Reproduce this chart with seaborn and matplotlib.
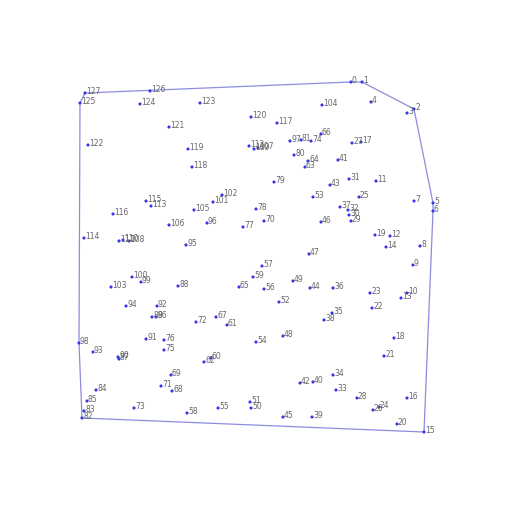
import numpy as np
import matplotlib
matplotlib.use("Agg")
import matplotlib.pyplot as plt
import seaborn as sns

# point positions (x to the right, y downward)
px = [351, 362, 414, 407, 371, 433, 433, 414, 420, 413, 407, 376, 390, 401, 386, 424,
      407, 361, 394, 375, 397, 384, 372, 370, 379, 359, 373, 352, 357, 351, 349, 349,
      348, 336, 333, 332, 333, 340, 324, 312, 313, 338, 300, 330, 310, 283, 321, 309,
      283, 293, 251, 250, 279, 313, 256, 218, 264, 262, 187, 253, 211, 227, 204, 305,
      308, 239, 321, 216, 172, 171, 264, 161, 196, 134, 311, 164, 164, 243, 256, 274,
      294, 301, 82, 84, 96, 87, 156, 119, 178, 152, 118, 146, 157, 93, 126, 186,
      207, 290, 79, 141, 132, 213, 222, 111, 322, 194, 169, 258, 129, 254, 123, 119,
      249, 151, 84, 146, 113, 277, 192, 188, 251, 169, 88, 200, 140, 80, 150, 85]
py = [82, 82, 109, 113, 102, 203, 211, 201, 246, 265, 293, 181, 236, 298, 247, 432,
      398, 142, 338, 235, 424, 356, 308, 293, 407, 197, 410, 143, 398, 221, 215, 179,
      210, 390, 375, 313, 288, 207, 320, 417, 382, 160, 383, 185, 288, 417, 222, 254,
      336, 281, 408, 402, 302, 197, 342, 408, 289, 266, 413, 277, 358, 325, 362, 167,
      161, 287, 134, 317, 391, 375, 221, 386, 322, 408, 141, 350, 340, 227, 209, 182,
      155, 140, 418, 411, 390, 401, 317, 359, 286, 317, 357, 339, 306, 352, 306, 245,
      223, 141, 343, 282, 277, 202, 195, 287, 105, 210, 225, 148, 241, 149, 240, 241,
      146, 206, 238, 201, 214, 123, 167, 149, 117, 127, 145, 103, 104, 103, 91, 93]
labels = [str(i) for i in range(len(px))]

pts = np.column_stack([px, py]).astype(float)


def hull(p):
    # monotone chain
    order = sorted(range(len(p)), key=lambda i: (p[i][0], p[i][1]))
    def cross(o, a, b):
        return (a[0]-o[0])*(b[1]-o[1]) - (a[1]-o[1])*(b[0]-o[0])
    lower, upper = [], []
    for i in order:
        while len(lower) >= 2 and cross(p[lower[-2]], p[lower[-1]], p[i]) <= 0:
            lower.pop()
        lower.append(i)
    for i in reversed(order):
        while len(upper) >= 2 and cross(p[upper[-2]], p[upper[-1]], p[i]) <= 0:
            upper.pop()
        upper.append(i)
    return lower[:-1] + upper[:-1]


h = hull(pts)
h = h + [h[0]]

fig = plt.figure(figsize=(5.12, 5.12), dpi=100)
ax = fig.add_axes([0, 0, 1, 1])
ax.plot(pts[h, 0], pts[h, 1], color="#8c8ce0", lw=0.9, zorder=1)
sns.scatterplot(x=pts[:, 0], y=pts[:, 1], ax=ax, s=5, color="#3434ec",
                edgecolor="none", zorder=2)
for x, y, t in zip(pts[:, 0], pts[:, 1], labels):
    ax.text(x + 1, y + 1, t, fontsize=5.5, color="#666666", ha="left", va="baseline")

ax.set_xlim(0, 512)
ax.set_ylim(512, 0)
ax.axis("off")
plt.savefig("out.png", dpi=100)
plt.close("all")
